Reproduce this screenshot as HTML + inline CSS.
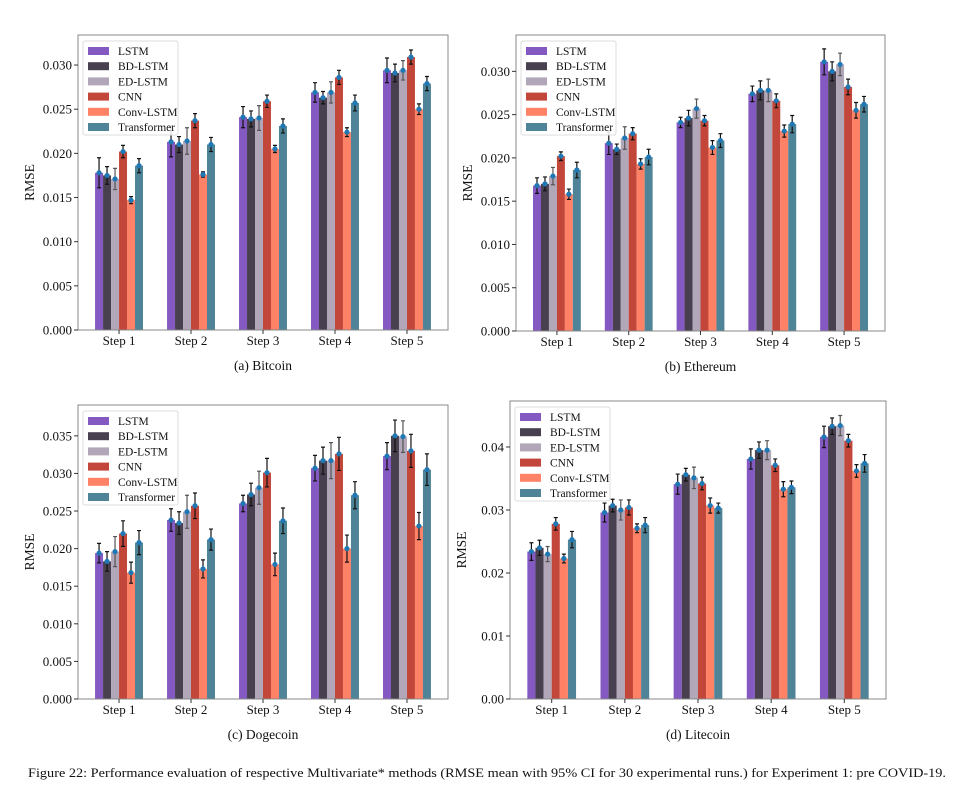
<!DOCTYPE html>
<html><head><meta charset="utf-8"><style>
body{margin:0;background:#fff;width:970px;height:799px;overflow:hidden}
svg text{font-family:"Liberation Serif",serif;fill:#111}
</style></head><body>
<svg id="fig" width="970" height="799" xmlns="http://www.w3.org/2000/svg"></svg>
<script>
const categories=["Step 1","Step 2","Step 3","Step 4","Step 5"];
const seriesNames=["LSTM","BD-LSTM","ED-LSTM","CNN","Conv-LSTM","Transformer"];
const colors=["#8459c2","#48404f","#b1a7b9","#c2473a","#ff8166","#4f8397"];
// Bitcoin
const btcMean=[[.0178,.0213,.0241,.0269,.0294],[.0175,.0210,.0239,.0263,.0291],[.0171,.0214,.0240,.0269,.0294],[.0202,.0237,.0259,.0286,.0309],[.0147,.0176,.0205,.0224,.0250],[.0186,.0210,.0231,.0257,.0279]];
const btcErr=[[.0017,.0017,.0012,.0011,.0014],[.0010,.0009,.0009,.0007,.0010],[.0012,.0015,.0014,.0012,.0011],[.0007,.0008,.0007,.0008,.0008],[.0004,.0003,.0004,.0005,.0006],[.0008,.0008,.0008,.0009,.0008]];
// Ethereum
const ethMean=[[.0168,.0217,.0241,.0274,.0311],[.0170,.0210,.0246,.0278,.0300],[.0179,.0223,.0257,.0278,.0308],[.0202,.0228,.0243,.0266,.0282],[.0158,.0193,.0212,.0231,.0255],[.0186,.0201,.0220,.0239,.0262]];
const ethErr=[[.0009,.0013,.0006,.0009,.0015],[.0008,.0006,.0009,.0011,.0011],[.0010,.0013,.0011,.0013,.0013],[.0005,.0007,.0006,.0008,.0009],[.0006,.0006,.0008,.0007,.0009],[.0009,.0009,.0008,.0010,.0009]];
// Dogecoin
const dogeMean=[[.0194,.0238,.0260,.0307,.0323],[.0183,.0234,.0272,.0317,.0350],[.0196,.0249,.0281,.0317,.0349],[.0220,.0257,.0301,.0326,.0330],[.0168,.0173,.0179,.0200,.0230],[.0208,.0212,.0237,.0271,.0305]];
const dogeErr=[[.0013,.0015,.0011,.0017,.0018],[.0013,.0015,.0015,.0018,.0021],[.0020,.0022,.0022,.0024,.0021],[.0017,.0017,.0019,.0022,.0022],[.0014,.0012,.0015,.0018,.0018],[.0016,.0014,.0017,.0018,.0021]];
// Litecoin
const ltcMean=[[.0234,.0296,.0341,.0381,.0416],[.0240,.0307,.0356,.0395,.0433],[.0230,.0300,.0351,.0395,.0434],[.0278,.0304,.0342,.0371,.0410],[.0223,.0271,.0307,.0333,.0362],[.0253,.0276,.0303,.0336,.0374]];
const ltcErr=[[.0014,.0015,.0016,.0016,.0017],[.0012,.0010,.0010,.0013,.0013],[.0012,.0016,.0017,.0015,.0016],[.0010,.0012,.0010,.0010,.0010],[.0007,.0007,.0012,.0012,.0010],[.0013,.0012,.0008,.0010,.0014]];
const ticksA=[0,.005,.010,.015,.020,.025,.030];
const ticksC=[0,.005,.010,.015,.020,.025,.030,.035];
const ticksD=[0,.01,.02,.03,.04];

const NS="http://www.w3.org/2000/svg";
const svg=document.getElementById('fig');
function mk(tag,attrs,parent,txt){const e=document.createElementNS(NS,tag);for(const k in attrs)e.setAttribute(k,attrs[k]);if(txt!==undefined)e.textContent=txt;(parent||svg).appendChild(e);return e;}

function panel(id,L,T,R,B,ymax,ticks,dec,means,errs,cap){
  const g=mk('g',{});
  
  
  const y=v=>B-(v/ymax)*(B-T);
  const xmin=-0.57,xmax=4.57;
  const x=v=>L+(v-xmin)/(xmax-xmin)*(R-L);
  const bw=0.111;
  for(let s=0;s<means.length;s++){
    for(let c=0;c<categories.length;c++){
      const cx=x(c+(s-2.5)*bw);
      const w=x(bw)-x(0);
      const v=means[s][c];
      const r=mk('rect',{x:cx-w/2,y:y(v),width:w,height:B-y(v),fill:colors[s]},g);
      
      
      const ec=s==2?'#555':'#111';
      const e=errs[s][c];
      const eb=mk('path',{d:`M${cx},${y(v-e)}V${y(v+e)}M${cx-2},${y(v-e)}h4M${cx-2},${y(v+e)}h4`,stroke:ec,'stroke-width':1.2,fill:'none'},g);
      
      
      const d=mk('circle',{cx:cx,cy:y(v),r:2.6,fill:'#1f77b4'},g);
      
      
    }
  }
  const f=mk('rect',{x:L,y:T,width:R-L,height:B-T,fill:'none',stroke:'#888','stroke-width':1},g);
  
  
  ticks.forEach(t=>{
    mk('line',{x1:L-4,x2:L,y1:y(t),y2:y(t),stroke:'#333'},g);
    const tl=mk('text',{x:L-6,y:y(t)+4.5,'text-anchor':'end','font-size':13},g,t.toFixed(dec));
    
    
  });
  categories.forEach((c,i)=>{
    mk('line',{x1:x(i),x2:x(i),y1:B,y2:B+4,stroke:'#333'},g);
    const tl=mk('text',{x:x(i),y:B+15,'text-anchor':'middle','font-size':13},g,c);
    
    
  });
  const yt=mk('text',{x:0,y:0,'text-anchor':'middle','font-size':13.5,transform:`translate(${L-44},${(T+B)/2}) rotate(-90)`},g,'RMSE');
  
  
  const lg=mk('g',{},g);
  
  
  mk('rect',{x:L+5,y:T+6,width:95,height:94,fill:'#fff','fill-opacity':0.85,stroke:'#ddd',rx:2},lg);
  seriesNames.forEach((n,i)=>{
    const ly=T+12+i*15.2;
    mk('rect',{x:L+10,y:ly,width:21,height:8,fill:colors[i]},lg);
    const t=mk('text',{x:L+40,y:ly+8,'font-size':11.5},lg,n);
    
    
  });
  const ct=mk('text',{x:(L+R)/2,y:B+40,'text-anchor':'middle','font-size':13.5},g,cap);
  
  
}
panel('bitcoin',78,35,448,330,0.0334,ticksA,3,btcMean,btcErr,'(a) Bitcoin');
panel('ethereum',516,35,885,331,0.0342,ticksA,3,ethMean,ethErr,'(b) Ethereum');
panel('dogecoin',78,405,448,699,0.0391,ticksC,3,dogeMean,dogeErr,'(c) Dogecoin');
panel('litecoin',510,401,886,699,0.0473,ticksD,2,ltcMean,ltcErr,'(d) Litecoin');
const cap=mk('text',{x:28,y:777,'font-size':12.5,textLength:918,lengthAdjust:'spacingAndGlyphs'},svg,'Figure 22: Performance evaluation of respective Multivariate* methods (RMSE mean with 95% CI for 30 experimental runs.) for Experiment 1: pre COVID-19.');


</script>
</body></html>
